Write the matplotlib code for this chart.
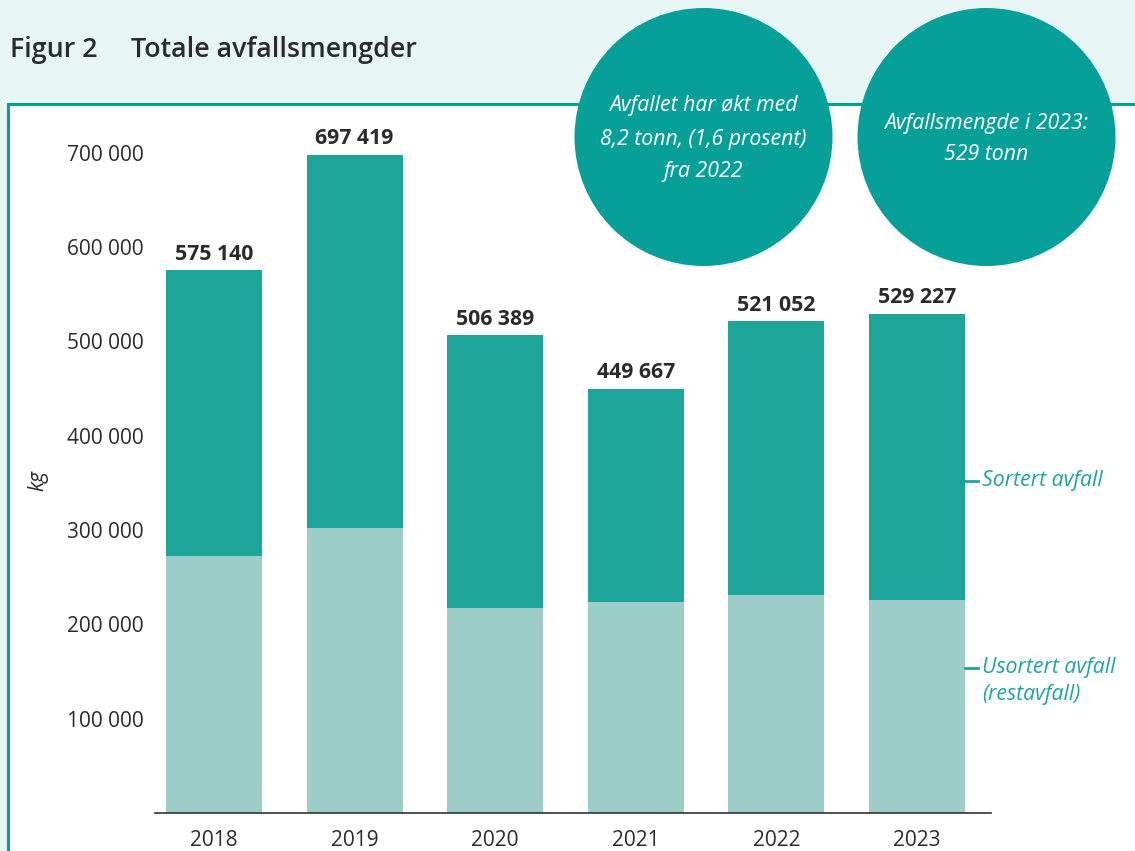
import matplotlib
matplotlib.use("Agg")
import matplotlib.pyplot as plt
from matplotlib.patches import Rectangle, Ellipse
from matplotlib.lines import Line2D

plt.rcParams['font.family'] = ['Open Sans', 'DejaVu Sans']

# Data (kg)
years = ['2018', '2019', '2020', '2021', '2022', '2023']
totals = [575140, 697419, 506389, 449667, 521052, 529227]
usortert = [272400, 302100, 217300, 223700, 231100, 225800]
sortert = [t - u for t, u in zip(totals, usortert)]
yticks = [100000, 200000, 300000, 400000, 500000, 600000, 700000]

# Colours
bg = '#e8f5f5'
teal = '#07a098'
dark = '#1ea59a'
light = '#9ccdc8'
txt = '#2b2b2b'

W, H = 1135, 851
fig = plt.figure(figsize=(W / 100, H / 100), dpi=100, facecolor=bg)

# white panel with teal border on left and top
fig.add_artist(Rectangle((8 / W, 0), 1, (H - 104) / H, transform=fig.transFigure,
                         facecolor='white', edgecolor='none', zorder=0))
fig.add_artist(Line2D([8 / W, 8 / W], [0, (H - 104) / H], transform=fig.transFigure,
                      color=teal, lw=2.2, zorder=1))
fig.add_artist(Line2D([8 / W, 1], [(H - 104) / H, (H - 104) / H], transform=fig.transFigure,
                      color=teal, lw=2.2, zorder=1))

# title
fig.text(10 / W, 1 - 50 / H, 'Figur 2', fontsize=19.3, fontweight='semibold', color=txt, va='center')
fig.text(131 / W, 1 - 50 / H, 'Totale avfallsmengder', fontsize=19.3, fontweight='semibold',
         color=txt, va='center')

# axes
ax_top = 96
ax_bottom = 813
ax = fig.add_axes([155 / W, (H - ax_bottom) / H, (991 - 155) / W, (ax_bottom - ax_top) / H])
ax.set_facecolor('none')
x = list(range(len(years)))
bw = 0.683
ax.bar(x, usortert, width=bw, color=light, zorder=2)
ax.bar(x, sortert, width=bw, bottom=usortert, color=dark, zorder=2)

for xi, t in zip(x, totals):
    ax.annotate(f'{t:,}'.replace(',', ' '), (xi, t), xytext=(0, 4), textcoords='offset points',
                ha='center', va='bottom', fontsize=15.3, fontweight='bold', color=txt)

ax.set_xlim(-0.42, 5.526)
ax.set_ylim(0, 760000)
ax.set_xticks(x)
ax.set_xticklabels(years)
ax.set_yticks(yticks)
ax.set_yticklabels([f'{v:,}'.replace(',', ' ') for v in yticks])
ax.tick_params(axis='both', length=0, labelsize=15, colors=txt)
ax.tick_params(axis='y', pad=8)
ax.tick_params(axis='x', pad=12)
for s in ['top', 'right', 'left']:
    ax.spines[s].set_visible(False)
ax.spines['bottom'].set_color('#333333')
ax.spines['bottom'].set_linewidth(1.2)

fig.text(38 / W, 1 - 480 / H, 'kg', rotation=90, style='italic', fontsize=15, color=txt,
         ha='center', va='center')

# legend labels beside the last bar
ax.plot([5.342, 5.434], [352000, 352000], color=dark, lw=2, clip_on=False)
ax.text(5.46, 352000, 'Sortert avfall', style='italic', fontsize=15.3, color=dark,
        va='center', ha='left', clip_on=False)
ax.plot([5.342, 5.434], [154000, 154000], color=dark, lw=2, clip_on=False)
ax.text(5.46, 154000, 'Usortert avfall', style='italic', fontsize=15.3, color=dark,
        va='center', ha='left', clip_on=False)
ax.text(5.46, 126000, '(restavfall)', style='italic', fontsize=15.3, color=dark,
        va='center', ha='left', clip_on=False)

# circles
d = 258
for cx, lines, ys in [(703.5, ['Avfallet har økt med', '8,2 tonn, (1,6 prosent)', 'fra 2022'], [106, 139, 171]),
                      (986.5, ['Avfallsmengde i 2023:', '529 tonn'], [123, 154])]:
    fig.add_artist(Ellipse((cx / W, 1 - 137 / H), d / W, d / H, transform=fig.transFigure,
                           facecolor=teal, edgecolor='none', zorder=5))
    for line, yy in zip(lines, ys):
        fig.text(cx / W, 1 - yy / H, line, style='italic', fontsize=15.3, color='white',
                 ha='center', va='center', zorder=6)

fig.savefig('out.png', dpi=100, facecolor=bg)
